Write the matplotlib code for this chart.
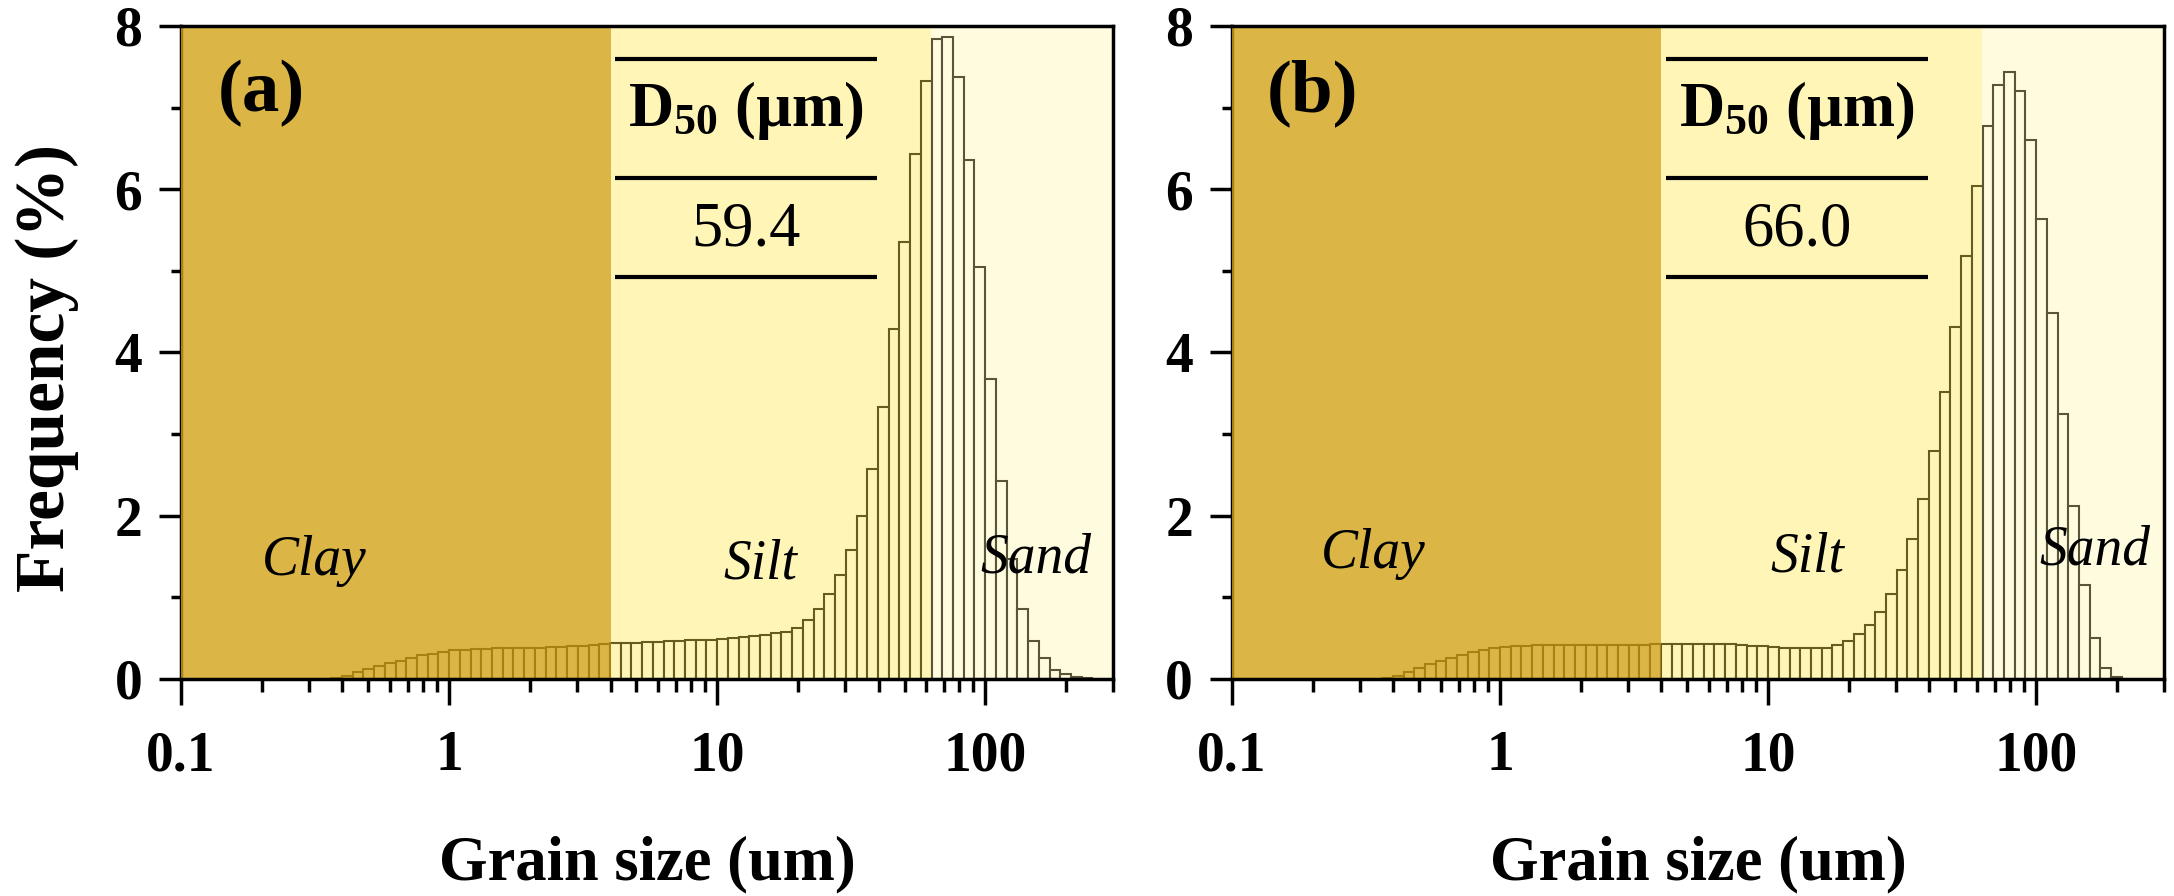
import numpy as np
import matplotlib
matplotlib.use('Agg')
import matplotlib.pyplot as plt
from matplotlib.ticker import FixedLocator, NullFormatter, LogLocator

plt.rcParams['font.family'] = ['Liberation Serif', 'DejaVu Serif']
plt.rcParams['font.weight'] = 'bold'
plt.rcParams['axes.labelweight'] = 'bold'
plt.rcParams['mathtext.fontset'] = 'custom'
plt.rcParams['mathtext.rm'] = 'Liberation Serif'
plt.rcParams['mathtext.bf'] = 'Liberation Serif:bold'

# grain size bins: 25 log-spaced classes per decade, index k -> [10^(k/25), 10^((k+1)/25)] um
bins_per_decade = 25
first_bin = -11

# frequency (%) per bin, panel (a)
freq_a = [0.01, 0.04, 0.08, 0.12, 0.155, 0.19, 0.22, 0.26, 0.29, 0.31,
          0.335, 0.35, 0.355, 0.363, 0.367, 0.375, 0.375, 0.375, 0.38, 0.384,
          0.39, 0.396, 0.40, 0.41, 0.416, 0.43, 0.44, 0.445, 0.445, 0.45,
          0.457, 0.465, 0.47, 0.473, 0.48, 0.48, 0.49, 0.50, 0.514,
          0.525, 0.54, 0.56, 0.58, 0.62, 0.72, 0.86, 1.04, 1.27, 1.58,
          2.0, 2.57, 3.33, 4.29, 5.35, 6.43, 7.32, 7.84, 7.87, 7.37,
          6.36, 5.05, 3.67, 2.43, 1.47, 0.86, 0.46, 0.26, 0.115, 0.06,
          0.03, 0.015]

# frequency (%) per bin, panel (b)
freq_b = [0.016, 0.04, 0.09, 0.14, 0.18, 0.22, 0.26, 0.29, 0.33, 0.355,
          0.375, 0.39, 0.40, 0.41,
          0.415, 0.42, 0.42, 0.42, 0.42, 0.42, 0.42, 0.42, 0.42, 0.42, 0.42, 0.425,
          0.43, 0.43, 0.43, 0.43, 0.43, 0.43, 0.425, 0.42,
          0.41, 0.40, 0.39, 0.385, 0.38, 0.38, 0.38, 0.385,
          0.416, 0.465, 0.55, 0.66, 0.82, 1.04, 1.33, 1.71, 2.20, 2.79,
          3.51, 4.31, 5.18, 6.04, 6.78, 7.28, 7.44, 7.2, 6.6, 5.64,
          4.48, 3.25, 2.12, 1.15, 0.50, 0.13, 0.03]

panel_tags = ['(a)', '(b)']
d50_values = ['59.4', '66.0']

class_names = ['Clay', 'Silt', 'Sand']
class_limits = [0.1, 4, 63, 300]
class_colors = ['#D2A418', '#FFE84B', '#FFF6A4']
class_alpha = [0.8, 0.4, 0.35]
name_x = [[0.313, 14.5, 155], [0.336, 14.0, 166]]
name_y = [[1.44, 1.40, 1.48], [1.53, 1.49, 1.57]]

table_rows = [7.6, 6.14, 4.92]

xtick_vals = [0.1, 1, 10, 100]
xtick_text = ['0.1', '1', '10', '100']
ytick_vals = [0, 2, 4, 6, 8]
ytick_minor = [1, 3, 5, 7]

fig = plt.figure(figsize=(21.74, 8.96), dpi=100)
ax_a = fig.add_axes([0.0833, 0.2422, 0.4287, 0.7288])
ax_b = fig.add_axes([0.5667, 0.2422, 0.4287, 0.7288])

for i, (ax, freq) in enumerate([(ax_a, freq_a), (ax_b, freq_b)]):
    k = first_bin + np.arange(len(freq))
    left = 10.0 ** (k / bins_per_decade)
    right = 10.0 ** ((k + 1) / bins_per_decade)
    ax.bar(left, freq, width=right - left, align='edge', color='white',
           edgecolor='black', linewidth=1.5, zorder=2)

    # grain class shading
    for j in range(3):
        ax.axvspan(class_limits[j], class_limits[j + 1], color=class_colors[j],
                   alpha=class_alpha[j], lw=0, zorder=3)
        ax.text(name_x[i][j], name_y[i][j], class_names[j], fontsize=40,
                fontstyle='italic', fontweight='normal', ha='center',
                va='center', zorder=5)

    # D50 table
    ax.hlines(table_rows, 4.15, 39.5, colors='black', lw=3, zorder=5)
    ax.text(12.8, 6.96, r'$\mathbf{D_{50}}$ (µm)', fontsize=45,
            ha='center', va='center', zorder=6)
    ax.text(12.8, 5.5, d50_values[i], fontsize=45, fontweight='normal',
            ha='center', va='center', zorder=6)
    ax.text(0.2, 7.18, panel_tags[i], fontsize=54, ha='center', va='center',
            zorder=6)

    ax.set_xscale('log')
    ax.set_xlim(0.1, 300)
    ax.set_ylim(0, 8)
    ax.xaxis.set_major_locator(FixedLocator(xtick_vals))
    ax.set_xticklabels(xtick_text)
    ax.xaxis.set_minor_locator(LogLocator(base=10, subs=np.arange(2, 10)))
    ax.xaxis.set_minor_formatter(NullFormatter())
    ax.set_yticks(ytick_vals)
    ax.set_yticks(ytick_minor, minor=True)

    ax.tick_params(axis='x', which='major', direction='out', length=19,
                   width=2.5, labelsize=40, pad=18)
    ax.tick_params(axis='x', which='minor', direction='out', length=9,
                   width=2.5)
    ax.tick_params(axis='y', which='major', direction='out', length=16,
                   width=2.5, labelsize=40, pad=12)
    ax.tick_params(axis='y', which='minor', direction='out', length=7,
                   width=2.5)
    ax.tick_params(top=False, right=False, which='both')

    for side in ['top', 'right', 'bottom', 'left']:
        ax.spines[side].set_linewidth(2.5)
    for side in ['top', 'right', 'bottom']:
        ax.spines[side].set_zorder(6)

    ax.set_xlabel('Grain size (um)', fontsize=45, labelpad=38)

ax_a.set_ylabel('Frequency (%)', fontsize=50)
ax_a.yaxis.set_label_coords(-0.11, 0.477)

fig.savefig('out.png', dpi=100)
